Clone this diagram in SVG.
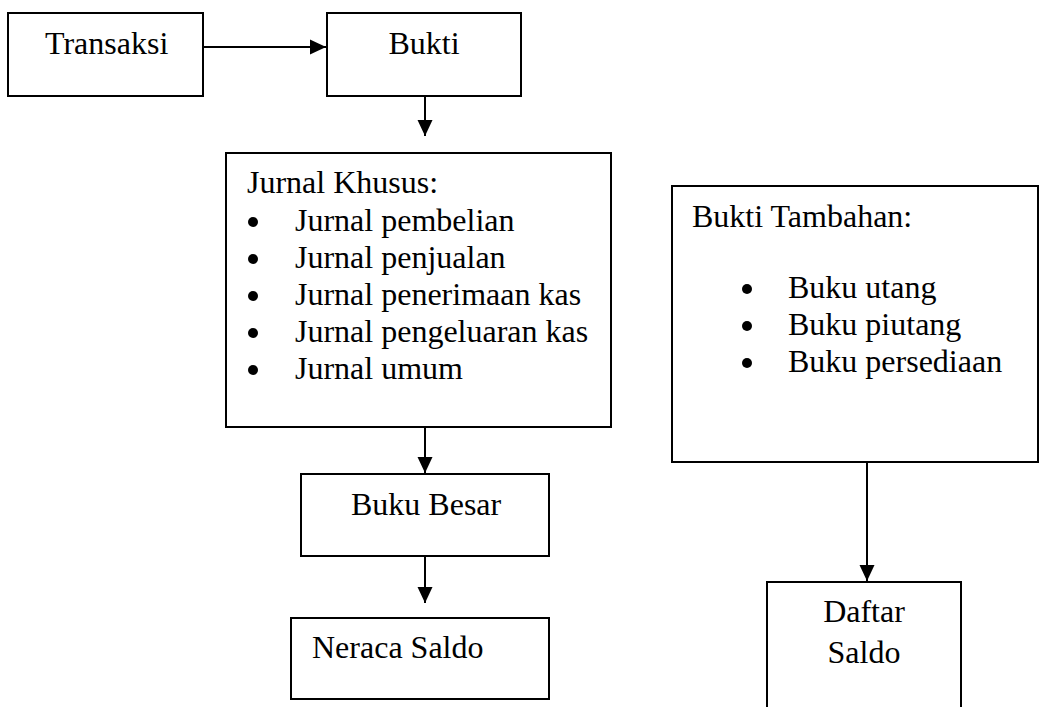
<svg xmlns="http://www.w3.org/2000/svg" width="1043" height="707" viewBox="0 0 1043 707">
<style>
.box{fill:#fff;stroke:#000;stroke-width:2}
.t{font-family:"Liberation Serif","Times New Roman",serif;font-size:32px;fill:#000}
.c{text-anchor:middle}
.con{fill:none;stroke:#000;stroke-width:2}
</style>
<defs>
<marker id="ah" markerUnits="userSpaceOnUse" markerWidth="16" markerHeight="16" refX="16" refY="8" orient="auto">
<path d="M0,0.5 L16,8 L0,15.5 z" fill="#000"/>
</marker>
</defs>
<rect width="1043" height="707" fill="#fff"/>
<g id="transaksi">
<rect class="box" x="8" y="13" width="195" height="83"/>
<text class="t" x="45" y="54">Transaksi</text>
</g>
<g id="bukti">
<rect class="box" x="327" y="13" width="194" height="83"/>
<text class="t c" x="424" y="54">Bukti</text>
</g>
<g id="jurnal-khusus">
<rect class="box" x="226" y="153" width="385" height="274"/>
<text class="t" x="247" y="193">Jurnal Khusus:</text>
<circle cx="253" cy="222" r="5"/>
<text class="t" x="295" y="231">Jurnal pembelian</text>
<circle cx="253" cy="259" r="5"/>
<text class="t" x="295" y="268">Jurnal penjualan</text>
<circle cx="253" cy="296" r="5"/>
<text class="t" x="295" y="305">Jurnal penerimaan kas</text>
<circle cx="253" cy="333" r="5"/>
<text class="t" x="295" y="342">Jurnal pengeluaran kas</text>
<circle cx="253" cy="370" r="5"/>
<text class="t" x="295" y="379">Jurnal umum</text>
</g>
<g id="buku-besar">
<rect class="box" x="301" y="474" width="248" height="82"/>
<text class="t" x="351" y="515">Buku Besar</text>
</g>
<g id="neraca-saldo">
<rect class="box" x="291" y="618" width="258" height="81"/>
<text class="t" x="312" y="658">Neraca Saldo</text>
</g>
<g id="bukti-tambahan">
<rect class="box" x="672" y="186" width="366" height="276"/>
<text class="t" x="692" y="227">Bukti Tambahan:</text>
<circle cx="747" cy="289" r="5"/>
<text class="t" x="788" y="298">Buku utang</text>
<circle cx="747" cy="326" r="5"/>
<text class="t" x="788" y="335">Buku piutang</text>
<circle cx="747" cy="363" r="5"/>
<text class="t" x="788" y="372">Buku persediaan</text>
</g>
<g id="daftar-saldo">
<path class="box" d="M767,712 V582 H961 V712"/>
<text class="t c" x="864" y="622">Daftar</text>
<text class="t c" x="864" y="663">Saldo</text>
</g>
<g id="connectors">
<path class="con" d="M203,47 H326" marker-end="url(#ah)"/>
<path class="con" d="M425,96 V136" marker-end="url(#ah)"/>
<path class="con" d="M425,427 V473" marker-end="url(#ah)"/>
<path class="con" d="M425,556 V603" marker-end="url(#ah)"/>
<path class="con" d="M867,462 V581" marker-end="url(#ah)"/>
</g>
</svg>
